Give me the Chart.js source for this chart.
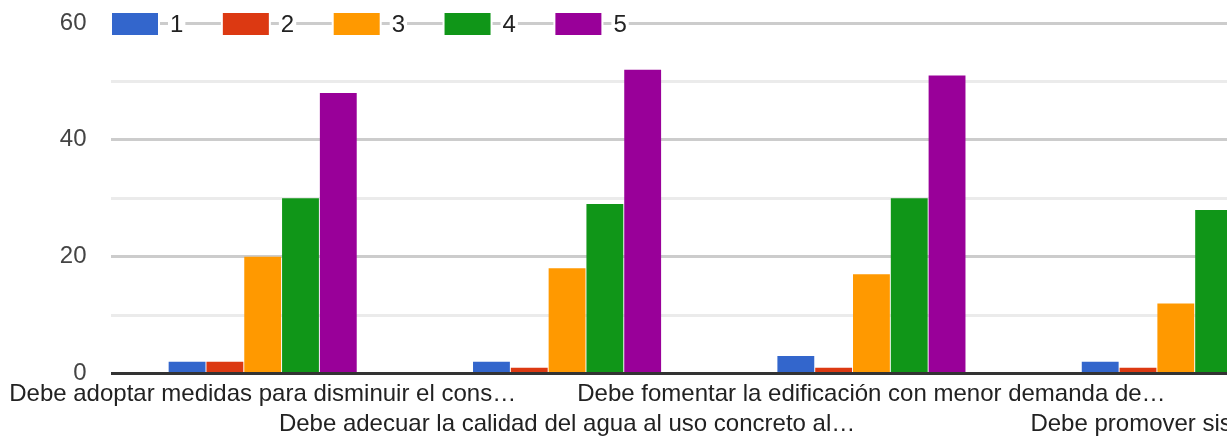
<!DOCTYPE html>
<html>
  <head>
    <meta charset="utf-8">
    <style>
      body { margin: 0; background: #fff; overflow: hidden; }
      #wrap { width: 1328px; height: 436px; }
    </style>
  </head>
  <body>
    <div id="wrap">
      <canvas id="myChart" width="1328" height="436"></canvas>
    </div>
  </body>
</html>

<script src="https://cdn.jsdelivr.net/npm/chart.js"></script>
<script>
  // categories (labels as cut off in the original), staggered on two rows
  let categories = [
    'Debe adoptar medidas para disminuir el cons…',
    'Debe adecuar la calidad del agua al uso concreto al…',
    'Debe fomentar la edificación con menor demanda de…',
    'Debe promover sistemas…'
  ];
  let seriesNames = ['1', '2', '3', '4', '5'];
  let colors = ['#3366cc', '#dc3912', '#ff9900', '#109618', '#990099'];

  let s1 = [2, 2, 3, 2];
  let s2 = [2, 1, 1, 1];
  let s3 = [20, 18, 17, 12];
  let s4 = [30, 29, 30, 28];
  let s5 = [48, 52, 51, 50];

  let yTicks = [0, 20, 40, 60];

  let font = 'Arial, "Liberation Sans", sans-serif';

  // put every other label on the second row
  let labels = categories.map(function(c, i){
    return i % 2 === 0 ? [c, ''] : ['', c];
  });

  let allSeries = [s1, s2, s3, s4, s5];
  let datasets = allSeries.map(function(vals, i){
    return {
      label: seriesNames[i],
      data: vals,
      backgroundColor: colors[i],
      borderWidth: 0,
      categoryPercentage: 0.621,
      barPercentage: 0.975
    };
  });

  // legend sits on the top gridline, like the google one
  let topLegend = {
    id: 'topLegend',
    afterDraw: function(chart){
      let ctx = chart.ctx;
      ctx.save();
      ctx.font = '24px ' + font;
      ctx.textBaseline = 'middle';
      let x = 112;
      let yc = 24;
      chart.data.datasets.forEach(function(ds){
        ctx.fillStyle = '#fff';
        ctx.fillRect(x - 2, yc - 13, 50, 26);
        ctx.fillStyle = ds.backgroundColor;
        ctx.fillRect(x, yc - 11, 46, 22);
        let tx = x + 46 + 12;
        let w = ctx.measureText(ds.label).width;
        ctx.fillStyle = '#fff';
        ctx.fillRect(tx - 2, yc - 13, w + 4, 26);
        ctx.fillStyle = '#222';
        ctx.fillText(ds.label, tx, yc + 1);
        x = tx + w + 39.5;
      });
      ctx.restore();
    }
  };

  let config = {
    type: 'bar',
    data: { labels: labels, datasets: datasets },
    options: {
      responsive: false,
      animation: false,
      layout: { padding: { top: 23, left: 0, right: 0, bottom: 0 } },
      plugins: {
        legend: { display: false },
        tooltip: { enabled: false }
      },
      scales: {
        x: {
          grid: { display: false },
          border: { display: false },
          ticks: {
            autoSkip: false,
            maxRotation: 0,
            minRotation: 0,
            padding: -2,
            color: '#222',
            font: { family: font, size: 24, lineHeight: 1.25 }
          },
          afterFit: function(s){
            s.height = 62.5;
            s.paddingLeft = 0;
            s.paddingRight = 0;
          }
        },
        y: {
          min: 0,
          max: 60,
          border: { display: false },
          grid: {
            drawTicks: false,
            lineWidth: 3,
            color: function(c){
              let v = c.tick.value;
              if (v === 0) return '#333';
              return yTicks.indexOf(v) >= 0 ? '#cccccc' : '#ebebeb';
            }
          },
          ticks: {
            stepSize: 10,
            padding: 24,
            color: '#444',
            font: { family: font, size: 24 },
            callback: function(v){ return yTicks.indexOf(v) >= 0 ? v : ''; }
          },
          afterFit: function(s){
            s.width = 110.5;
            s.paddingTop = 0;
            s.paddingBottom = 0;
          }
        }
      }
    },
    plugins: [topLegend]
  };

  let myChart = new Chart(document.getElementById('myChart'), config);
</script>
